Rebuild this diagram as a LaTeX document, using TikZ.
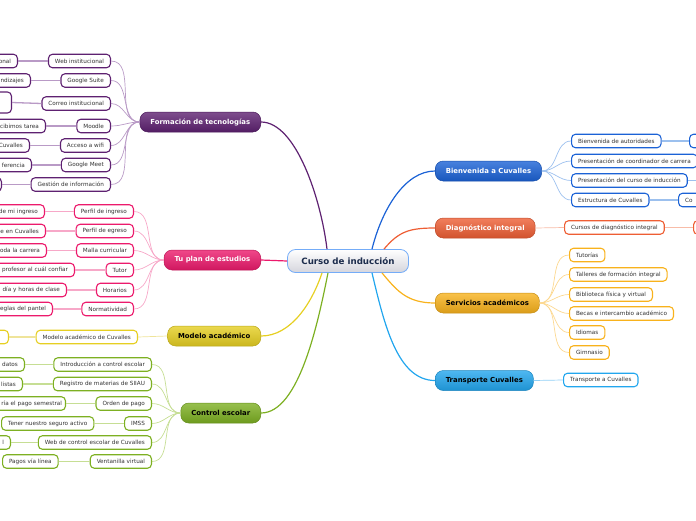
\documentclass[tikz,border=0pt]{standalone}
\usepackage{fontspec}
\setmainfont{DejaVu Sans}

\definecolor{txt}{HTML}{333333}
\definecolor{purp}{HTML}{5E2171}
\definecolor{purpl}{HTML}{B99AC6}
\definecolor{pink}{HTML}{EC1A6C}
\definecolor{pinkl}{HTML}{F7A8C8}
\definecolor{yel}{HTML}{E6CF22}
\definecolor{yell}{HTML}{EFE49A}
\definecolor{grn}{HTML}{7DB022}
\definecolor{grnl}{HTML}{C6DE94}
\definecolor{blu}{HTML}{1B62D6}
\definecolor{blul}{HTML}{9CC0EE}
\definecolor{orr}{HTML}{EE5E34}
\definecolor{orrl}{HTML}{F8BCA8}
\definecolor{org}{HTML}{F8B21C}
\definecolor{orgl}{HTML}{FCD890}
\definecolor{cya}{HTML}{22A6EE}
\definecolor{cyal}{HTML}{90D0F6}
\definecolor{navy}{HTML}{1C2C4C}

\begin{document}
\begin{tikzpicture}[x=1pt,y=1pt,yscale=-1,
  sub/.style={draw=#1, line width=1.1pt, fill=white, rounded corners=4pt,
    minimum height=13.5pt, inner xsep=6.5pt, inner ysep=0pt, text=txt,
    font=\fontsize{5.7}{6.5}\selectfont},
  cutl/.style={text width=90pt, align=right},
  cutr/.style={text width=60pt, align=left},
  main/.style={rounded corners=8pt, minimum height=20pt, inner xsep=10.5pt,
    inner ysep=0pt, top color=#1!80!white, bottom color=#1!88!black,
    draw=#1!80!black, line width=0.5pt, font=\fontsize{6.9}{8}\selectfont\bfseries},
  fan/.style={draw=#1, line width=0.7pt},
  link/.style={draw=#1, line width=1.3pt},
  trunk/.style={draw=#1, line width=1.2pt}]
\useasboundingbox (0,0) rectangle (696,520);

%Center
\node[rounded corners=8pt, minimum width=121pt, minimum height=23pt, top color=white,
  bottom color=blue!10!gray!30, draw=cya!70!blue!60, line width=0.8pt, text=navy,
  font=\fontsize{8.7}{10}\selectfont\bfseries] (cen) at (348,261) {Curso de inducción};

%Main branches
\node[main=purp, anchor=east, text=white] (tec) at (261,122) {Formación de tecnologías};
\node[main=pink, anchor=east, text=white] (tup) at (261,260) {Tu plan de estudios};
\node[main=yel, anchor=east, text=black] (mod) at (261,336) {Modelo académico};
\node[main=grn, anchor=east, text=black] (con) at (261,413) {Control escolar};
\node[main=blu, anchor=west, text=white] (bie) at (435,171) {Bienvenida a Cuvalles};
\node[main=orr, anchor=west, text=white] (dia) at (435,228) {Diagnóstico integral};
\node[main=org, anchor=west, text=black] (ser) at (435,303) {Servicios académicos};
\node[main=cya, anchor=west, text=black] (tra) at (435,380.5) {Transporte Cuvalles};

%Trunks
\draw[trunk=purp] ([xshift=-21pt]cen.north) .. controls +(-6,-50) and +(35,0) .. (tec.east);
\draw[trunk=pink] (cen.west) -- (tup.east);
\draw[trunk=yel] ([xshift=-26pt]cen.south) .. controls +(-10,30) and +(30,0) .. (mod.east);
\draw[trunk=grn] ([xshift=-20pt]cen.south) .. controls +(-10,50) and +(38,0) .. (con.east);
\draw[trunk=blu] ([xshift=24pt]cen.north) .. controls +(10,-40) and +(-30,0) .. (bie.west);
\draw[trunk=orr] ([xshift=36pt]cen.north) .. controls +(15,-18) and +(-25,0) .. (dia.west);
\draw[trunk=org] ([xshift=34pt]cen.south) .. controls +(15,18) and +(-28,0) .. (ser.west);
\draw[trunk=cya] ([xshift=24pt]cen.south) .. controls +(12,50) and +(-38,0) .. (tra.west);

%Formación de tecnologías
\node[sub=purp, anchor=east] (tec1) at (111,61) {Web institucional};
\node[sub=purp, anchor=east] (tec2) at (111,80.5) {Google Suite};
\node[sub=purp, anchor=east] (tec3) at (111,103.5) {Correo institucional};
\node[sub=purp, anchor=east] (tec4) at (111,126) {Moodle};
\node[sub=purp, anchor=east] (tec5) at (111,145.5) {Acceso a wifi};
\node[sub=purp, anchor=east] (tec6) at (111,165) {Google Meet};
\node[sub=purp, anchor=east] (tec7) at (111,184.5) {Gestión de información};
\node[sub=purp, cutl, anchor=east] (tecA) at (18,61) {onal};
\node[sub=purp, cutl, anchor=east] (tecB) at (31,80.5) {ndizajes};
\node[sub=purp, cutl, anchor=east, minimum height=21pt] (tecC) at (12,102.5) {};
\node[sub=purp, cutl, anchor=east] (tecD) at (46,126) {cibimos tarea};
\node[sub=purp, cutl, anchor=east] (tecE) at (30,145.5) {Cuvalles};
\node[sub=purp, cutl, anchor=east] (tecF) at (32,165) {ferencia};
\node[sub=purp, cutl, anchor=east] (tecG) at (2,184.5) {};
\draw[fan=purpl] (tec.west) to[out=180,in=0] (tec1.east);
\draw[fan=purpl] (tec.west) to[out=180,in=0] (tec2.east);
\draw[fan=purpl] (tec.west) to[out=180,in=0] (tec3.east);
\draw[fan=purpl] (tec.west) to[out=180,in=0] (tec4.east);
\draw[fan=purpl] (tec.west) to[out=180,in=0] (tec5.east);
\draw[fan=purpl] (tec.west) to[out=180,in=0] (tec6.east);
\draw[fan=purpl] (tec.west) to[out=180,in=0] (tec7.east);
\draw[link=purpl] (tec1) -- (tecA);
\draw[link=purpl] (tec2) -- (tecB);
\draw[link=purpl] (tec3.west) -- (tecC.east);
\draw[link=purpl] (tec4) -- (tecD);
\draw[link=purpl] (tec5) -- (tecE);
\draw[link=purpl] (tec6) -- (tecF);
\draw[link=purpl] (tec7) -- (tecG);

%Tu plan de estudios
\node[sub=pink, anchor=east] (tup1) at (134,211.5) {Perfil de ingreso};
\node[sub=pink, anchor=east] (tup2) at (134,231) {Perfil de egreso};
\node[sub=pink, anchor=east] (tup3) at (134,250.5) {Malla curricular};
\node[sub=pink, anchor=east] (tup4) at (134,270) {Tutor};
\node[sub=pink, anchor=east] (tup5) at (134,290) {Horarios};
\node[sub=pink, anchor=east] (tup6) at (134,309) {Normatividad};
\node[sub=pink, cutl, anchor=east] (tupA) at (45,211.5) {de mi ingreso};
\node[sub=pink, cutl, anchor=east] (tupB) at (46,231) {e en Cuvalles};
\node[sub=pink, cutl, anchor=east] (tupC) at (47,250.5) {oda la carrera};
\node[sub=pink, cutl, anchor=east] (tupD) at (75,270) {profesor al cuál confiar};
\node[sub=pink, cutl, anchor=east] (tupE) at (67,290) {día y horas de clase};
\node[sub=pink, cutl, anchor=east] (tupF) at (53,309) {eglas del pantel};
\draw[fan=pinkl] (tup.west) to[out=180,in=0] (tup1.east);
\draw[fan=pinkl] (tup.west) to[out=180,in=0] (tup2.east);
\draw[fan=pinkl] (tup.west) to[out=180,in=0] (tup3.east);
\draw[fan=pinkl] (tup.west) to[out=180,in=0] (tup4.east);
\draw[fan=pinkl] (tup.west) to[out=180,in=0] (tup5.east);
\draw[fan=pinkl] (tup.west) to[out=180,in=0] (tup6.east);
\draw[link=pinkl] (tup1) -- (tupA);
\draw[link=pinkl] (tup2) -- (tupB);
\draw[link=pinkl] (tup3) -- (tupC);
\draw[link=pinkl] (tup4) -- (tupD);
\draw[link=pinkl] (tup5) -- (tupE);
\draw[link=pinkl] (tup6) -- (tupF);

%Modelo académico
\node[sub=yel, anchor=east] (mod1) at (138,337) {Modelo académico de Cuvalles};
\node[sub=yel, cutl, anchor=east] (modA) at (9,337) {};
\draw[fan=yell] (mod.west) -- (mod1.east);
\draw[link=yell] (mod1) -- (modA);

%Control escolar
\node[sub=grn, anchor=east] (con1) at (152,364.5) {Introducción a control escolar};
\node[sub=grn, anchor=east] (con2) at (152,384) {Registro de materias de SIIAU};
\node[sub=grn, anchor=east] (con3) at (152,403.5) {Orden de pago};
\node[sub=grn, anchor=east] (con4) at (152,423.5) {IMSS};
\node[sub=grn, anchor=east] (con5) at (152,442.5) {Web de control escolar de Cuvalles};
\node[sub=grn, anchor=east] (con6) at (152,461.5) {Ventanilla virtual};
\node[sub=grn, cutl, anchor=east] (conA) at (25,364.5) {datos};
\node[sub=grn, cutl, anchor=east] (conB) at (23,384) {listas};
\node[sub=grn, cutl, anchor=east, inner xsep=3.5pt] (conC) at (66,403.5) {ría el pago semestral};
\node[sub=grn, anchor=west] (conD) at (1,423.5) {Tener nuestro seguro activo};
\node[sub=grn, cutl, anchor=east] (conE) at (11,442.5) {l};
\node[sub=grn, anchor=west] (conF) at (2,461.5) {Pagos vía línea};
\draw[fan=grnl] (con.west) to[out=180,in=0] (con1.east);
\draw[fan=grnl] (con.west) to[out=180,in=0] (con2.east);
\draw[fan=grnl] (con.west) to[out=180,in=0] (con3.east);
\draw[fan=grnl] (con.west) to[out=180,in=0] (con4.east);
\draw[fan=grnl] (con.west) to[out=180,in=0] (con5.east);
\draw[fan=grnl] (con.west) to[out=180,in=0] (con6.east);
\draw[link=grnl] (con1) -- (conA);
\draw[link=grnl] (con2) -- (conB);
\draw[link=grnl] (con3) -- (conC);
\draw[link=grnl] (con4) -- (conD);
\draw[link=grnl] (con5) -- (conE);
\draw[link=grnl] (con6) -- (conF);

%Bienvenida a Cuvalles
\node[sub=blu, anchor=west] (bie1) at (571,141) {Bienvenida de autoridades};
\node[sub=blu, anchor=west] (bie2) at (571,161) {Presentación de coordinador de carrera};
\node[sub=blu, anchor=west] (bie3) at (571,180.5) {Presentación del curso de inducción};
\node[sub=blu, anchor=west] (bie4) at (571,200) {Estructura de Cuvalles};
\node[sub=blu, cutr, anchor=west] (bieA) at (689,141) {};
\node[sub=blu, cutr, anchor=west] (bieC) at (700,180.5) {};
\node[sub=blu, cutr, anchor=west] (bieD) at (678,200) {Co};
\draw[fan=blul] (bie.east) to[out=0,in=180] (bie1.west);
\draw[fan=blul] (bie.east) to[out=0,in=180] (bie2.west);
\draw[fan=blul] (bie.east) to[out=0,in=180] (bie3.west);
\draw[fan=blul] (bie.east) to[out=0,in=180] (bie4.west);
\draw[link=blul] (bie1) -- (bieA);
\draw[link=blul] (bie3) -- (bieC);
\draw[link=blul] (bie4) -- (bieD);

%Diagnóstico integral
\node[sub=orr, anchor=west] (dia1) at (564,227.5) {Cursos de diagnóstico integral};
\node[sub=orr, cutr, anchor=west] (diaA) at (693,227.5) {};
\draw[fan=orrl] (dia.east) -- (dia1.west);
\draw[link=orrl] (dia1) -- (diaA);

%Servicios académicos
\node[sub=org, anchor=west] (ser1) at (569,255) {Tutorías};
\node[sub=org, anchor=west] (ser2) at (569,274.5) {Talleres de formación integral};
\node[sub=org, anchor=west] (ser3) at (569,294.5) {Biblioteca física y virtual};
\node[sub=org, anchor=west] (ser4) at (569,313.5) {Becas e intercambio académico};
\node[sub=org, anchor=west] (ser5) at (569,332.5) {Idiomas};
\node[sub=org, anchor=west] (ser6) at (569,352.5) {Gimnasio};
\draw[fan=orgl] (ser.east) to[out=0,in=180] (ser1.west);
\draw[fan=orgl] (ser.east) to[out=0,in=180] (ser2.west);
\draw[fan=orgl] (ser.east) to[out=0,in=180] (ser3.west);
\draw[fan=orgl] (ser.east) to[out=0,in=180] (ser4.west);
\draw[fan=orgl] (ser.east) to[out=0,in=180] (ser5.west);
\draw[fan=orgl] (ser.east) to[out=0,in=180] (ser6.west);

%Transporte Cuvalles
\node[sub=cya, anchor=west] (tra1) at (563,380) {Transporte a Cuvalles};
\draw[fan=cyal] (tra.east) -- (tra1.west);

\end{tikzpicture}
\end{document}
